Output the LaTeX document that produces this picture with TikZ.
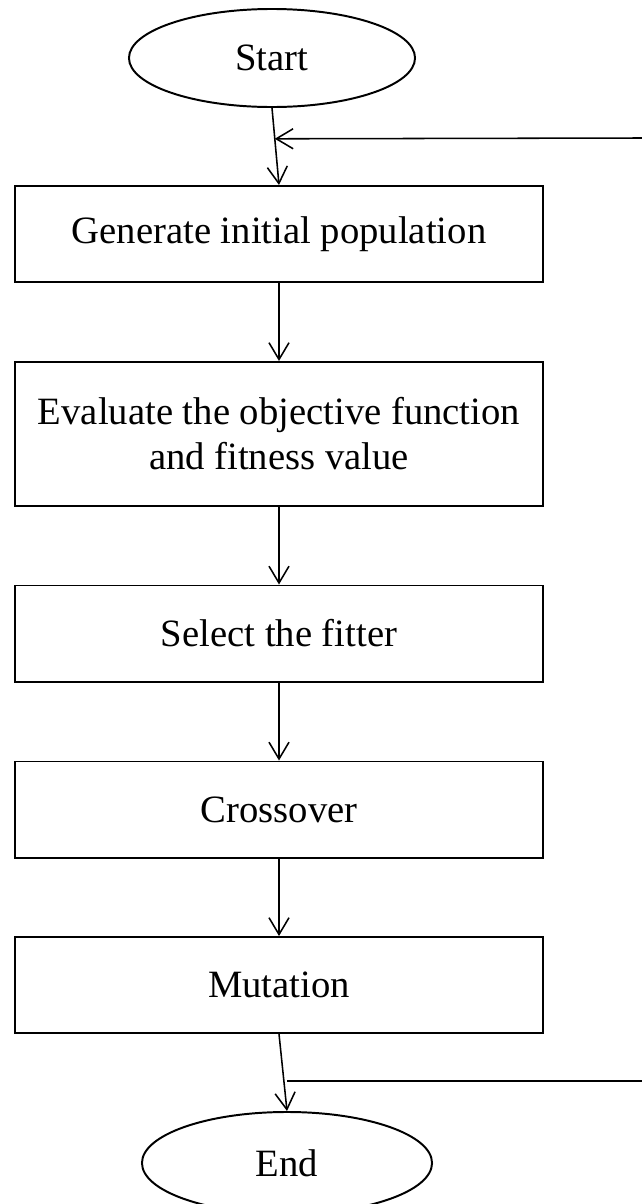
\documentclass[tikz,border=0pt]{standalone}
\usepackage{fontspec}
\setmainfont{Liberation Serif}
\usepackage{tikz}
\usetikzlibrary{arrows.meta,calc,shapes.geometric}
\tikzset{%
	terminal/.style = {draw, ellipse, line width=1.4pt, minimum width=7.15cm, minimum height=2.45cm, text centered, font=\fontsize{27.5}{32}\selectfont},
	process/.style  = {draw, rectangle, line width=1.4pt, minimum width=13.2cm, minimum height=2.4cm, text centered, align=center, font=\fontsize{27.5}{32}\selectfont},
	arrow/.style    = {line width=1.1pt,-{Straight Barb[length=0.42cm,width=0.5cm,line width=1.1pt]}},
	loopline/.style = {line width=1.1pt},
}

\begin{document}
\begin{tikzpicture}[x=0.025cm,y=-0.025cm]
	\useasboundingbox (0,0) rectangle (642,1204);
	
	\node[terminal] (start) at (272,58) {Start};
	\node[process] (init) at (279,234) {Generate initial population};
	\node[process, minimum height=3.6cm] (eval) at (279,434) {Evaluate the objective function\\and fitness value};
	\node[process] (select) at (279,633.5) {Select the fitter};
	\node[process] (cross) at (279,809.5) {Crossover};
	\node[process] (mut) at (279,985) {Mutation};
	\node[terminal, minimum width=7.25cm, minimum height=2.55cm] (end) at (287,1163) {End};
	
	\coordinate (loopin) at (642,138);
	\coordinate (loopout) at (642,1081);
	\coordinate (loopend) at (287,1081);
	
	\draw[arrow] (start.south) -- (init.north);
	\draw[arrow] (init) -- (eval);
	\draw[arrow] (eval) -- (select);
	\draw[arrow] (select) -- (cross);
	\draw[arrow] (cross) -- (mut);
	\draw[arrow] (mut.south) -- (end.north);
	
	\draw[arrow] (loopin) -- ($(start.south)!0.4!(init.north)$);
	\draw[loopline] (loopout) -- (loopend);
\end{tikzpicture}
\end{document}
